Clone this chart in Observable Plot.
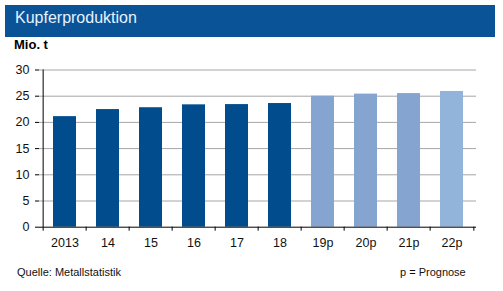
<!DOCTYPE html>
<html><head><meta charset="utf-8">
<script src="https://cdn.jsdelivr.net/npm/d3@7"></script>
<script src="https://cdn.jsdelivr.net/npm/@observablehq/plot@0.6"></script>
<style>
body{margin:0;background:#fff;font-family:"Liberation Sans",Arial,sans-serif;}
#wrap{position:relative;width:503px;height:291px;overflow:hidden;}
#bar{position:absolute;left:5px;top:5px;width:490px;height:32px;background:#0a5396;}
#title{position:absolute;left:15px;top:9px;color:#e6f2ff;font-size:16px;}
#unit{position:absolute;left:14px;top:37px;font-size:13px;font-weight:bold;color:#000;}
#chart{position:absolute;left:0;top:55px;}
#src{position:absolute;left:17px;top:266px;font-size:11px;color:#111;}
#note{position:absolute;left:400px;top:266px;font-size:11px;color:#111;}
</style></head>
<body><div id="wrap">
<div id="bar"></div><div id="title">Kupferproduktion</div>
<div id="unit">Mio. t</div>
<div id="chart"></div>
<div id="src">Quelle: Metallstatistik</div>
<div id="note">p = Prognose</div>
</div>
<script>
const years = ["2013","14","15","16","17","18","19p","20p","21p","22p"];
const values = [21.1,22.45,22.8,23.35,23.4,23.6,25.0,25.4,25.5,25.9];
const colors = ["#004c8c","#004c8c","#004c8c","#004c8c","#004c8c","#004c8c","#85a5d0","#85a5d0","#85a5d0","#93b4da"];
const yTicks = [0,5,10,15,20,25,30];

const data = years.map((y,i)=>({year:y, value:values[i], color:colors[i]}));
const W = 503, mL = 39, mR = 27;
const step = (W - mL - mR) / years.length;

const chart = Plot.plot({
  width: W, height: 200,
  marginLeft: mL, marginRight: mR, marginTop: 14.5, marginBottom: 28.3,
  style: {fontFamily: '"Liberation Sans", Arial, sans-serif', fontSize: "12.5px", color: "#111", background: "#fff"},
  x: {domain: years, paddingInner: 0.47, paddingOuter: 0.235, label: null},
  y: {domain: [0,30], ticks: yTicks, label: null},
  marks: [
    Plot.ruleY(yTicks.filter(d=>d>0), {stroke: "#a6a6a6", strokeWidth: 1}),
    Plot.barY(data, {x: "year", y: "value", fill: "color"}),
    Plot.axisY({ticks: yTicks, tickSize: 4, tickPadding: 6, label: null, stroke: "#000"}),
    Plot.ruleY([0], {stroke: "#000"}),
    Plot.axisX({tickSize: 0, tickPadding: 11, label: null}),
    Plot.ruleX(years, {x: d=>d, y1: 0, y2: 0, insetTop: 4, dx: -step/2, stroke: "#000"}),
    Plot.ruleX([years[years.length-1]], {x: d=>d, y1: 0, y2: 0, insetTop: 4, dx: step/2, stroke: "#000"}),
    Plot.ruleX([years[0]], {x: d=>d, y1: 0, y2: 30, dx: -step/2, stroke: "#000"})
  ]
});
document.getElementById("chart").appendChild(chart);
</script>
</body></html>
